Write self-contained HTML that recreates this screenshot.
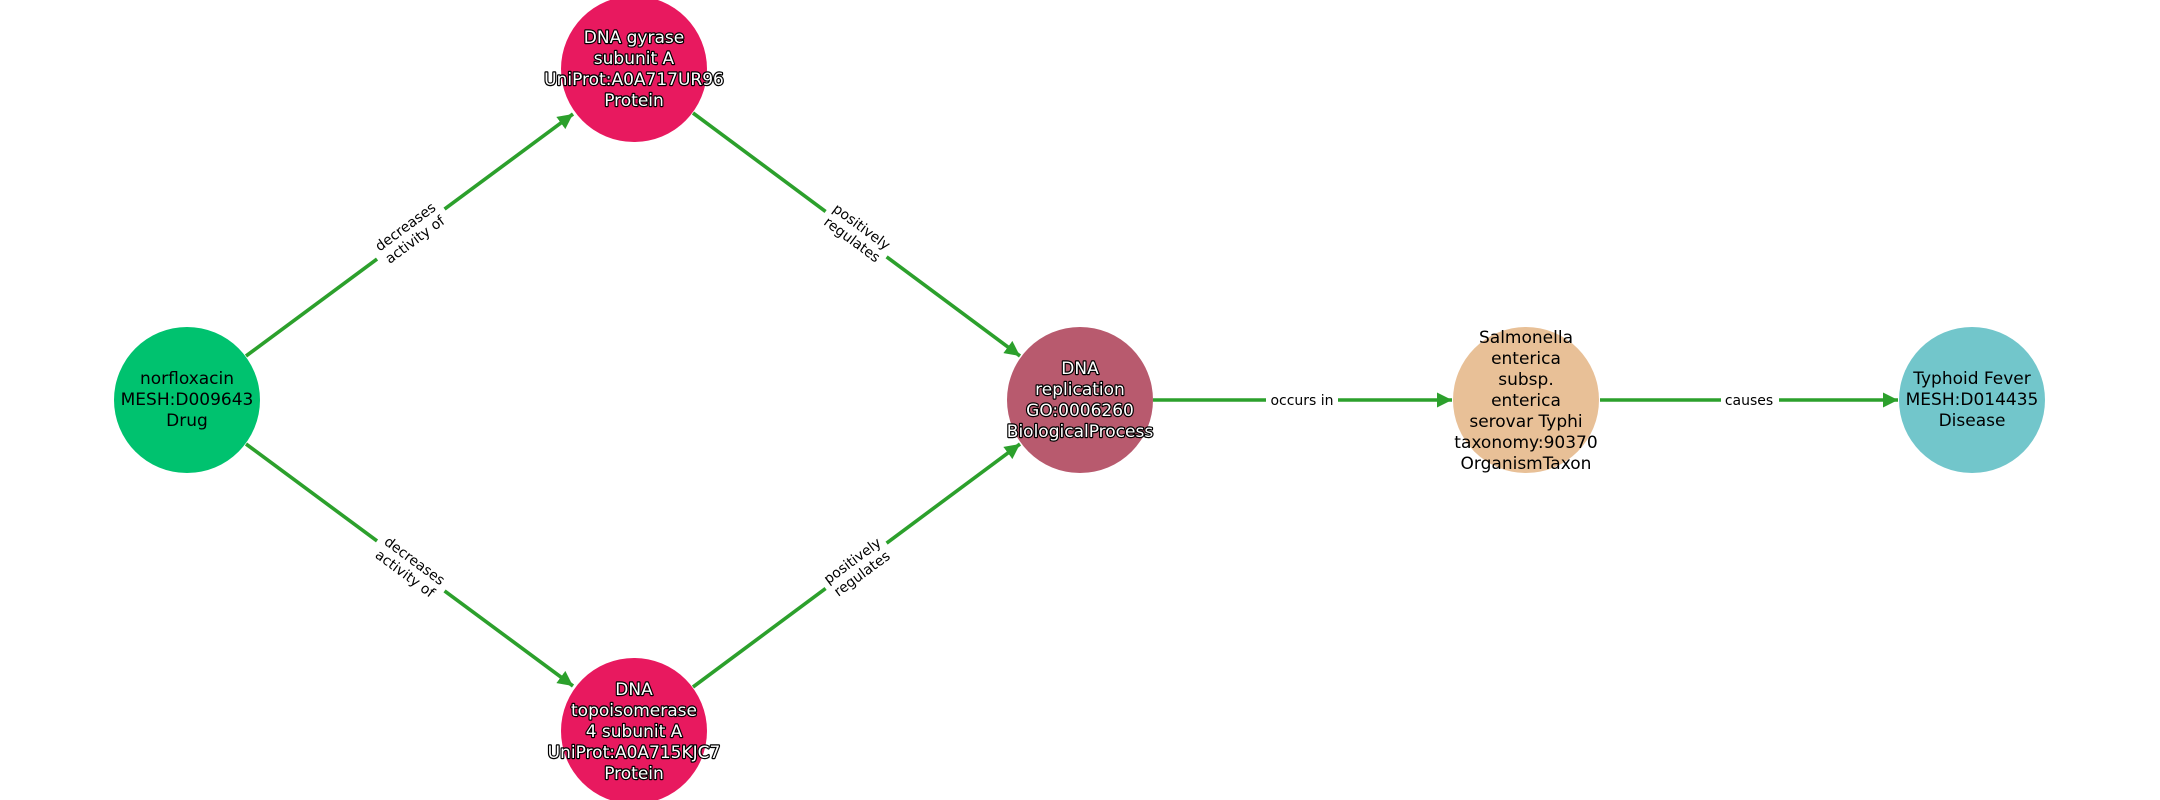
<!DOCTYPE html>
<html><head><meta charset="utf-8"><style>
html,body{margin:0;padding:0;background:#fff;}
svg{display:block;}
text{font-family:"DejaVu Sans","Liberation Sans",sans-serif;}
.n{font-size:17px;text-anchor:middle;}
.w{fill:#fff;stroke:#000;stroke-width:2.4px;paint-order:stroke;stroke-linejoin:round;}
.e{font-size:14px;text-anchor:middle;fill:#000;}
</style></head><body>
<svg width="2160" height="800" viewBox="0 0 2160 800" xmlns="http://www.w3.org/2000/svg">
<defs>
<marker id="a" viewBox="0 0 10 10" refX="10" refY="5" markerWidth="4.2" markerHeight="4.2" orient="auto" markerUnits="strokeWidth">
<path d="M0,0 L10,5 L0,10 z" fill="#2ca02c"/>
</marker>
</defs>
<g stroke="#2ca02c" stroke-width="3.6" fill="none">
<line x1="246" y1="356" x2="573" y2="114" marker-end="url(#a)"/>
<line x1="246" y1="444" x2="573" y2="686" marker-end="url(#a)"/>
<line x1="693" y1="113" x2="1020" y2="356" marker-end="url(#a)"/>
<line x1="693" y1="687" x2="1020" y2="444" marker-end="url(#a)"/>
<line x1="1153" y1="400" x2="1452" y2="400" marker-end="url(#a)"/>
<line x1="1600" y1="400" x2="1898" y2="400" marker-end="url(#a)"/>
</g>
<circle cx="187" cy="400" r="73" fill="#00c26f"/>
<circle cx="634" cy="69" r="73" fill="#e8195f"/>
<circle cx="634" cy="731" r="73" fill="#e8195f"/>
<circle cx="1080" cy="400" r="73" fill="#b85a6e"/>
<circle cx="1526" cy="400" r="73" fill="#e8c097"/>
<circle cx="1972" cy="400" r="73" fill="#72c6cb"/>

<!-- edge labels -->
<g transform="translate(410,233) rotate(-36.5)">
<rect x="-42" y="-17" width="84" height="34" fill="#fff"/>
<text class="e" y="-3">decreases</text><text class="e" y="13">activity of</text></g>
<g transform="translate(410,567) rotate(36.5)">
<rect x="-42" y="-17" width="84" height="34" fill="#fff"/>
<text class="e" y="-3">decreases</text><text class="e" y="13">activity of</text></g>
<g transform="translate(857,233) rotate(36.5)">
<rect x="-38" y="-17" width="76" height="34" fill="#fff"/>
<text class="e" y="-3">positively</text><text class="e" y="13">regulates</text></g>
<g transform="translate(857,567) rotate(-36.5)">
<rect x="-38" y="-17" width="76" height="34" fill="#fff"/>
<text class="e" y="-3">positively</text><text class="e" y="13">regulates</text></g>
<rect x="1266" y="390" width="72" height="20" fill="#fff"/>
<text class="e" x="1302" y="405">occurs in</text>
<rect x="1721" y="390" width="58" height="20" fill="#fff"/>
<text class="e" x="1749" y="405">causes</text>

<!-- node labels -->
<text class="n" x="187" y="384">norfloxacin</text>
<text class="n" x="187" y="405">MESH:D009643</text>
<text class="n" x="187" y="426">Drug</text>

<g class="w">
<text class="n w" x="634" y="43">DNA gyrase</text>
<text class="n w" x="634" y="64">subunit A</text>
<text class="n w" x="634" y="85">UniProt:A0A717UR96</text>
<text class="n w" x="634" y="106">Protein</text>

<text class="n w" x="634" y="695">DNA</text>
<text class="n w" x="634" y="716">topoisomerase</text>
<text class="n w" x="634" y="737">4 subunit A</text>
<text class="n w" x="634" y="758">UniProt:A0A715KJC7</text>
<text class="n w" x="634" y="779">Protein</text>

<text class="n w" x="1080" y="374">DNA</text>
<text class="n w" x="1080" y="395">replication</text>
<text class="n w" x="1080" y="416">GO:0006260</text>
<text class="n w" x="1080" y="437">BiologicalProcess</text>
</g>

<text class="n" x="1526" y="343">Salmonella</text>
<text class="n" x="1526" y="364">enterica</text>
<text class="n" x="1526" y="385">subsp.</text>
<text class="n" x="1526" y="406">enterica</text>
<text class="n" x="1526" y="427">serovar Typhi</text>
<text class="n" x="1526" y="448">taxonomy:90370</text>
<text class="n" x="1526" y="469">OrganismTaxon</text>

<text class="n" x="1972" y="384">Typhoid Fever</text>
<text class="n" x="1972" y="405">MESH:D014435</text>
<text class="n" x="1972" y="426">Disease</text>
</svg>
</body></html>
